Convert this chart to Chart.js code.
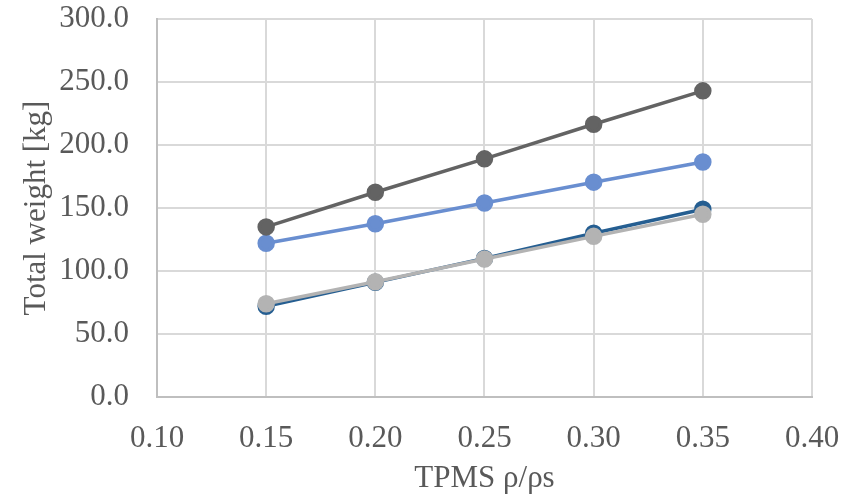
<!DOCTYPE html>
<html>
<head>
<meta charset="utf-8">
<script src="https://cdn.jsdelivr.net/npm/chart.js@4/dist/chart.umd.min.js"></script>
<style>
  html, body { margin: 0; padding: 0; background: #ffffff; }
  #wrap { width: 854px; height: 501px; position: relative; }
</style>
</head>
<body>
<div id="wrap"><canvas id="weightChart"></canvas></div>
<script>
// TPMS relative density vs total weight
var densities    = [0.15, 0.20, 0.25, 0.30, 0.35];
var seriesDark   = [135.0, 162.5, 189.0, 216.5, 243.0];
var seriesLight  = [122.0, 137.5, 154.0, 170.5, 186.5];
var seriesNavy   = [72.0, 91.0, 110.0, 130.0, 149.0];
var seriesGray   = [74.0, 91.5, 109.5, 127.5, 145.0];

var xTicks = [0.10, 0.15, 0.20, 0.25, 0.30, 0.35, 0.40];
var yTicks = [0, 50, 100, 150, 200, 250, 300];

function toPoints(values) {
  return densities.map(function(d, i) { return { x: d, y: values[i] }; });
}

function makeSet(label, values, color, order) {
  return {
    label: label,
    data: toPoints(values),
    borderColor: color,
    backgroundColor: color,
    pointBackgroundColor: color,
    pointBorderColor: color,
    pointRadius: 7,
    pointHoverRadius: 7,
    borderWidth: 3.5,
    order: order
  };
}

var font = { family: '"Liberation Serif", "Times New Roman", serif', size: 31 };

new Chart(document.getElementById('weightChart').getContext('2d'), {
  type: 'scatter',
  data: {
    datasets: [
      makeSet('S1', seriesNavy,  '#255e91', 3),
      makeSet('S2', seriesGray,  '#b3b3b3', 2),
      makeSet('S3', seriesLight, '#698ed0', 1),
      makeSet('S4', seriesDark,  '#636363', 0)
    ]
  },
  options: {
    responsive: true,
    maintainAspectRatio: false,
    animation: false,
    showLine: true,
    layout: { padding: { left: 18, right: 42, top: 19, bottom: 4 } },
    plugins: { legend: { display: false }, tooltip: { enabled: false } },
    scales: {
      x: {
        type: 'linear',
        min: xTicks[0],
        max: xTicks[xTicks.length - 1],
        afterBuildTicks: function(axis) { axis.ticks = xTicks.map(function(v) { return { value: v }; }); },
        afterFit: function(axis) { axis.height = 100; axis.paddingLeft = 0; axis.paddingRight = 0; },
        grid: { color: '#d9d9d9', lineWidth: 2, drawTicks: false },
        border: { color: '#bfbfbf', width: 2 },
        ticks: { color: '#595959', font: font, padding: 23, maxRotation: 0,
                 callback: function(v) { return Number(v).toFixed(2); } },
        title: { display: true, text: 'TPMS ρ/ρs', color: '#595959', font: font, padding: { top: 7, bottom: 0 } }
      },
      y: {
        min: yTicks[0],
        max: yTicks[yTicks.length - 1],
        afterBuildTicks: function(axis) { axis.ticks = yTicks.map(function(v) { return { value: v }; }); },
        afterFit: function(axis) { axis.width = 139; axis.paddingTop = 0; axis.paddingBottom = 0; },
        grid: { color: '#d9d9d9', lineWidth: 2, drawTicks: false },
        border: { color: '#bfbfbf', width: 2 },
        ticks: { color: '#595959', font: font, padding: 28,
                 callback: function(v) { return Number(v).toFixed(1); } },
        title: { display: true, text: 'Total weight [kg]', color: '#595959', font: font, padding: { top: 0, bottom: 4 } }
      }
    }
  }
});
</script>
</body>
</html>
